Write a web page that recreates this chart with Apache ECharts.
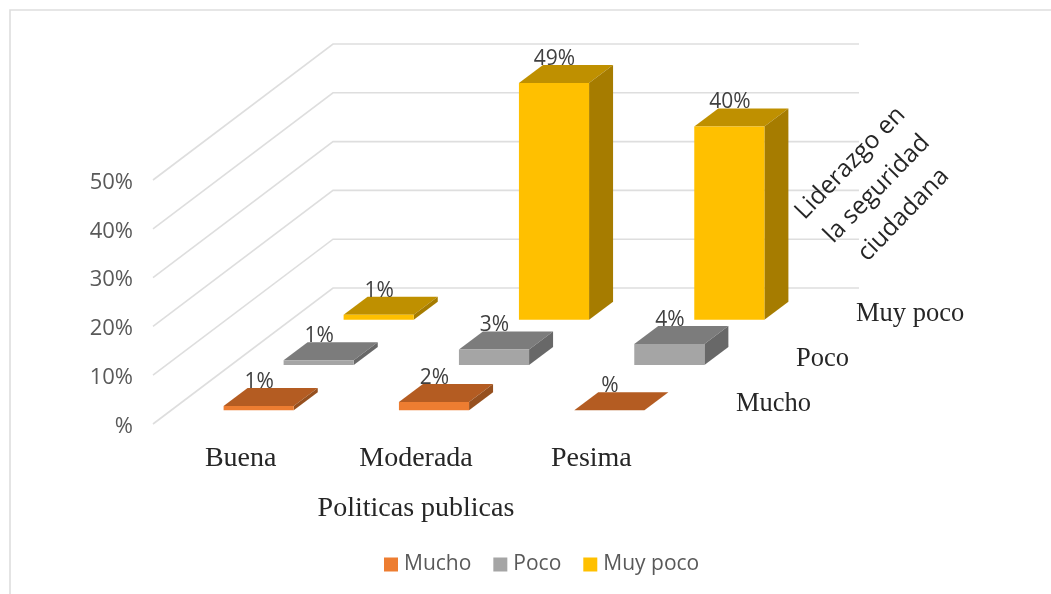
<!DOCTYPE html>
<html><head><meta charset="utf-8">
<style>html,body{margin:0;padding:0;background:#fff}#c{width:1051px;height:594px}</style>
<script src="https://cdn.jsdelivr.net/npm/echarts@6/dist/echarts.min.js"></script>
</head><body><div id="c"></div>
<script>
const categories = ['Buena', 'Moderada', 'Pesima'];
const seriesNames = ['Mucho', 'Poco', 'Muy poco'];
const mucho = [0.9, 1.7, 0];
const poco = [1, 3.2, 4.3];
const muyPoco = [1, 48.5, 39.6];
const valueTicks = [0, 10, 20, 30, 40, 50];
const tickLabels = ['%', '10%', '20%', '30%', '40%', '50%'];
const xTitle = 'Politicas publicas';
const depthTitle = 'Liderazgo en\nla seguridad\nciudadana';

const SANS = '"Open Sans", sans-serif', SERIF = '"Liberation Serif", serif';
const palette = [
  {front:'#ED7D31', top:'#B45C22', side:'#96501F'},
  {front:'#A5A5A5', top:'#7C7C7C', side:'#686868'},
  {front:'#FFC000', top:'#BF9000', side:'#A67C00'}
];
const CELL = {dx:60, dy:-45.33}, BAR = {dx:24, dy:-18};
const fmt = v => Math.round(v) === 0 ? '%' : Math.round(v) + '%';

function barSeries(idx, values){
  const col = palette[idx];
  return {
    type:'custom', name:seriesNames[idx], coordinateSystem:'cartesian2d', z:10-idx, clip:false,
    itemStyle:{color:col.front},
    data:values.map((v,i)=>[i,v]),
    renderItem(p, api){
      const top = api.coord([api.value(0), api.value(1)]), base = api.coord([api.value(0), 0]);
      const w = api.size([1,0])[0]*0.4;
      const ox = CELL.dx*idx + (CELL.dx-BAR.dx)/2, oy = CELL.dy*idx + (CELL.dy-BAR.dy)/2;
      const l = top[0]-w/2+ox, r = l+w, t = top[1]+oy, b = base[1]+oy;
      const children = [
        {type:'polygon', shape:{points:[[l,t],[r,t],[r+BAR.dx,t+BAR.dy],[l+BAR.dx,t+BAR.dy]]}, style:{fill:col.top}},
        {type:'polygon', shape:{points:[[r,t],[r+BAR.dx,t+BAR.dy],[r+BAR.dx,b+BAR.dy],[r,b]]}, style:{fill:col.side}},
        {type:'rect', shape:{x:l,y:t,width:w,height:b-t}, style:{fill:col.front}},
        {type:'text', z2:50, style:{text:fmt(api.value(1)), x:(l+r)/2+0.5, y:t-24, align:'center', verticalAlign:'middle',
          font:'21px '+SANS, fill:'#404040'}}
      ];
      return {type:'group', children};
    }
  };
}

const walls = {
  type:'custom', name:'walls', z:1, clip:false, silent:true,
  data:valueTicks.map(v=>[0,v]),
  renderItem(p, api){
    const band = api.size([1,0])[0];
    const a = api.coord([0, api.value(1)]), e = api.coord([categories.length-1, api.value(1)]);
    const depth = seriesNames.length;
    const x0 = a[0]-band/2, x1 = e[0]+band/2, y = a[1];
    const bx = x0+CELL.dx*depth, by = y+CELL.dy*depth;
    return {type:'polyline', shape:{points:[[x0,y],[bx,by],[x1+CELL.dx*depth,by]]},
      style:{stroke:'#DEDEDE', lineWidth:1.6, fill:null}};
  }
};

const depthAxis = {
  type:'custom', name:'depth', z:2, clip:false, silent:true,
  data:seriesNames.map(()=>[categories.length-1,0]),
  renderItem(p, api){
    const i = p.dataIndex, band = api.size([1,0])[0], c = api.coord([api.value(0),0]);
    return {type:'text', style:{text:seriesNames[i],
      x:c[0]+band/2+CELL.dx*(i+0.5)+27, y:c[1]+CELL.dy*(i+0.5)+3,
      align:'left', verticalAlign:'middle', font:'26.5px '+SERIF, fill:'#262626'}};
  }
};

const chart = echarts.init(document.getElementById('c'), null, {renderer:'canvas'});
chart.setOption({
  animation:false, backgroundColor:'#fff',
  grid:{left:153, top:180, width:526, height:244, containLabel:false, outerBoundsMode:'none'},
  xAxis:{type:'category', data:categories, axisLine:{show:false}, axisTick:{show:false},
    axisLabel:{margin:21, color:'#262626', fontFamily:'Liberation Serif', fontSize:28},
    name:xTitle, nameLocation:'middle', nameGap:71,
    nameTextStyle:{color:'#262626', fontFamily:'Liberation Serif', fontSize:28}},
  yAxis:{type:'value', min:0, max:50, interval:10, splitLine:{show:false}, axisLine:{show:false}, axisTick:{show:false},
    axisLabel:{margin:20, color:'#595959', fontFamily:'Open Sans', fontSize:22, verticalAlign:'top', lineHeight:5,
      formatter:v=>tickLabels[valueTicks.indexOf(v)]}},
  legend:{data:seriesNames, left:379, top:549, icon:'rect', itemWidth:14, itemHeight:14, itemGap:22,
    textStyle:{color:'#595959', fontFamily:'Open Sans', fontSize:21, padding:[0,0,0,1]}},
  graphic:[
    {type:'polyline', silent:true, shape:{points:[[10,594],[10,10],[1051,10]]}, style:{stroke:'#DEDEDE', lineWidth:1.6, fill:null}},
    {type:'text', silent:true, x:877, y:189, rotation:0.8, z:20,
      style:{text:depthTitle, align:'center', verticalAlign:'middle', font:'24.5px '+SANS, lineHeight:37, fill:'#262626'}}
  ],
  series:[walls, depthAxis, barSeries(2,muyPoco), barSeries(1,poco), barSeries(0,mucho)]
});
</script></body></html>
